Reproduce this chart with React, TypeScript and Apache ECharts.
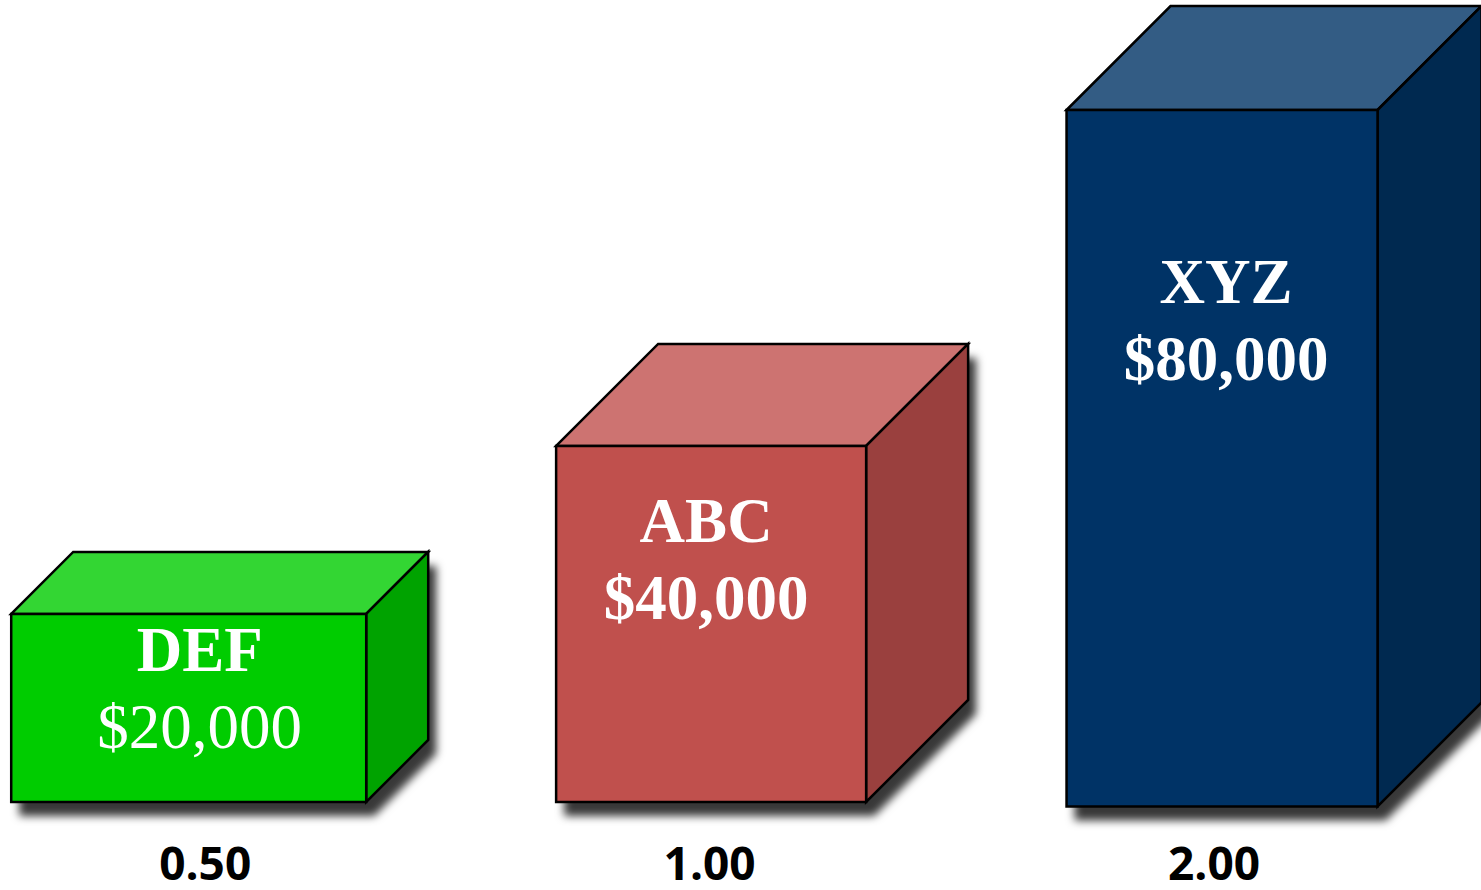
import React, { useEffect, useRef } from "react";
import * as echarts from "echarts";

// ---- data ----
const categories = ["0.50", "1.00", "2.00"];
const names = ["DEF", "ABC", "XYZ"];
const values = [20000, 40000, 80000];
const valueLabels = ["$20,000", "$40,000", "$80,000"];

// ---- styles (per box) ----
const frontColors = ["#00CC00", "#C0504D", "#003366"];
const topColors = ["#33D633", "#CD7371", "#335C84"];
const sideColors = ["#00A300", "#9A403E", "#002950"];
const valueBold = [false, true, true];
const boxWidth = [355, 310, 311];
const boxDepth = [62, 102, 104];
const boxShift = [-16.5, 1.5, 8];
const baseDrop = [0, 0, 4.5];
const textTop = [36, 75, 172];
const textShift = [11, -5, 4];
const AXIS_MIN = -2400;
const LEFT_BLEED = 47.25;

export default function App() {
  const ref = useRef<HTMLDivElement>(null);
  useEffect(() => {
    if (!ref.current) return;
    const chart = echarts.init(ref.current, null, { renderer: "svg" });
    const renderItem = (params: any, api: any) => {
      const i = api.value(0);
      const v = api.value(1);
      const topPt = api.coord([i, v]);
      const basePt = api.coord([i, AXIS_MIN]);
      const cx = topPt[0] + boxShift[i];
      const w = boxWidth[i];
      const d = boxDepth[i];
      const x0 = cx - w / 2;
      const x1 = cx + w / 2;
      const yt = topPt[1];
      const yb = basePt[1] + baseDrop[i];
      const stroke = { stroke: "#000", lineWidth: 2.5, lineJoin: "miter" };
      const tx = cx + textShift[i];
      const ty = yt + textTop[i];
      return {
        type: "group",
        children: [
          {
            type: "polygon",
            shape: {
              points: [
                [x0, yb],
                [x0, yt],
                [x0 + d, yt - d],
                [x1 + d, yt - d],
                [x1 + d, yb - d],
                [x1, yb],
              ],
            },
            style: {
              fill: "#404040",
              shadowColor: "rgba(0,0,0,0.78)",
              shadowBlur: 8,
              shadowOffsetX: 8,
              shadowOffsetY: 14,
            },
          },
          {
            type: "polygon",
            shape: { points: [[x0, yt], [x0 + d, yt - d], [x1 + d, yt - d], [x1, yt]] },
            style: { fill: topColors[i], ...stroke },
          },
          {
            type: "polygon",
            shape: { points: [[x1, yt], [x1 + d, yt - d], [x1 + d, yb - d], [x1, yb]] },
            style: { fill: sideColors[i], ...stroke },
          },
          {
            type: "rect",
            shape: { x: x0, y: yt, width: w, height: yb - yt },
            style: { fill: frontColors[i], ...stroke },
          },
          {
            type: "text",
            style: {
              text: names[i],
              x: tx,
              y: ty,
              fill: "#fff",
              fontFamily: "'Liberation Serif', 'Times New Roman', serif",
              fontWeight: "bold",
              fontSize: 63,
              align: "center",
              verticalAlign: "middle",
            },
          },
          {
            type: "text",
            style: {
              text: valueLabels[i],
              x: tx,
              y: ty + 77,
              fill: "#fff",
              fontFamily: "'Liberation Serif', 'Times New Roman', serif",
              fontWeight: valueBold[i] ? "bold" : "normal",
              fontSize: 63,
              align: "center",
              verticalAlign: "middle",
            },
          },
        ],
      };
    };
    chart.setOption({
      animation: false,
      backgroundColor: "#ffffff",
      grid: { left: 0, right: 14.75, top: 110, bottom: 88, containLabel: false },
      xAxis: {
        type: "category",
        data: categories,
        axisLine: { show: false },
        axisTick: { show: false },
        splitLine: { show: false },
        axisLabel: {
          color: "#000",
          fontFamily: "'Open Sans', sans-serif",
          fontWeight: "bold",
          fontSize: 46,
          lineHeight: 34,
          verticalAlign: "middle",
          margin: 60,
        },
      },
      yAxis: {
        type: "value",
        min: AXIS_MIN,
        max: 80000,
        show: false,
        splitLine: { show: false },
      },
      series: [
        {
          type: "custom",
          clip: false,
          renderItem,
          data: values.map((v, i) => [i, v]),
        },
      ],
    });
    return () => chart.dispose();
  }, []);
  return (
    <div
      ref={ref}
      style={{
        position: "absolute",
        left: -LEFT_BLEED,
        top: 0,
        width: 1481 + LEFT_BLEED,
        height: 890,
      }}
    />
  );
}
